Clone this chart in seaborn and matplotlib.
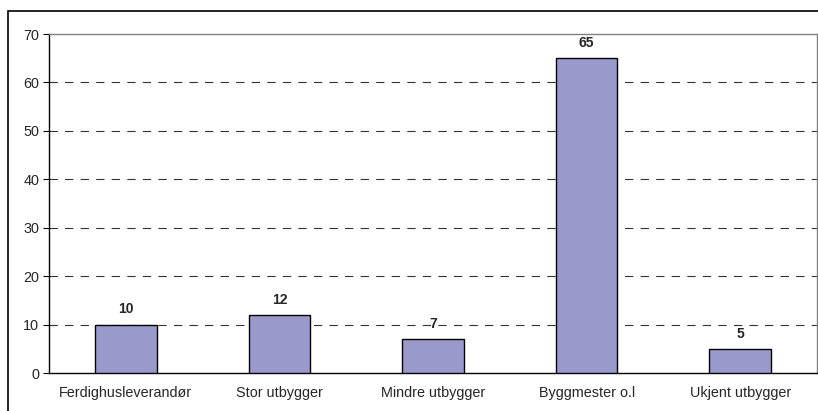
import matplotlib
matplotlib.use('Agg')
from matplotlib import pyplot as plt
from matplotlib.patches import Rectangle
import seaborn as sns
import pandas as pd
import numpy as np

categories = ['Ferdighusleverandør', 'Stor utbygger', 'Mindre utbygger', 'Byggmester o.l', 'Ukjent utbygger']
values = [10, 12, 7, 65, 5]

df = pd.DataFrame({'kategori': categories, 'antall': values})

sns.set_style('white')
plt.rcParams['font.family'] = ['Liberation Sans', 'DejaVu Sans']

fig = plt.figure(figsize=(8.18, 4.11), dpi=100)
ax = fig.add_axes([49 / 818, 38 / 411, 768 / 818, 339 / 411])

# outer chart frame (right and bottom edges fall outside the image)
top = 1 - 11 / 411
fig.patches.append(Rectangle((8 / 818, -0.1), 1.2, top + 0.1,
                             transform=fig.transFigure, fill=False,
                             edgecolor='black', linewidth=1.2))

sns.barplot(data=df, x='kategori', y='antall', color='#9999CC',
            edgecolor='black', linewidth=1, width=0.4, saturation=1, ax=ax, zorder=3)

ax.set_ylim(0, 70)
ax.set_xlim(-0.5, len(categories) - 0.5)
ax.set_yticks(np.arange(0, 71, 10))
for y in range(10, 70, 10):
    ax.axhline(y, color='#333333', linestyle=(0, (7.5, 6.5)), linewidth=0.8, zorder=1)

ax.set_xticks(np.arange(len(categories)))
ax.set_xticklabels(categories, fontsize=10.4)
ax.set_xticks(np.arange(0.5, len(categories) - 0.5 + 0.01, 1), minor=True)
ax.tick_params(axis='x', which='major', length=0, pad=9)
ax.tick_params(axis='x', which='minor', length=4, width=0.8, direction='out', color='black')
ax.tick_params(axis='y', length=4, width=0.8, direction='out', color='black', labelsize=10.4, pad=3, left=True)
ax.set_xlabel('')
ax.set_ylabel('')

ax.spines['left'].set_color('black')
ax.spines['bottom'].set_color('black')
ax.spines['top'].set_color('#808080')
ax.spines['right'].set_color('#808080')
for s in ax.spines.values():
    s.set_linewidth(1)

for i, v in enumerate(values):
    ax.text(i, v + 1.7, str(v), ha='center', va='bottom', fontsize=10, fontweight='bold')

fig.savefig('out.png', dpi=100)
